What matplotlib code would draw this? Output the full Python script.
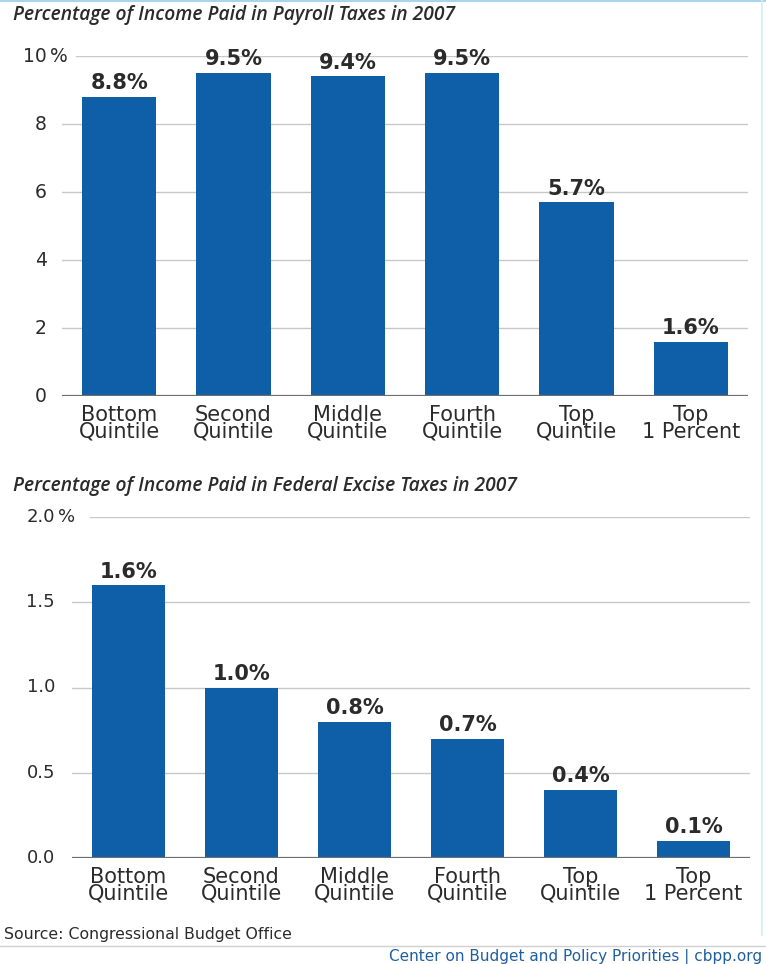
import matplotlib
matplotlib.use("Agg")
import matplotlib.pyplot as plt
from matplotlib.lines import Line2D

plt.rcParams['font.family'] = ['DejaVu Sans']

categories = ["Bottom\nQuintile", "Second\nQuintile", "Middle\nQuintile",
              "Fourth\nQuintile", "Top\nQuintile", "Top\n1 Percent"]

payroll_values = [8.8, 9.5, 9.4, 9.5, 5.7, 1.6]
payroll_ticks = [0, 2, 4, 6, 8, 10]
payroll_ticklabels = ["0", "2", "4", "6", "8", "10"]

excise_values = [1.6, 1.0, 0.8, 0.7, 0.4, 0.1]
excise_ticks = [0.0, 0.5, 1.0, 1.5, 2.0]
excise_ticklabels = ["0.0", "0.5", "1.0", "1.5", "2.0"]

payroll_title = "Percentage of Income Paid in Payroll Taxes in 2007"
excise_title = "Percentage of Income Paid in Federal Excise Taxes in 2007"
source_text = "Source: Congressional Budget Office"
credit_text = "Center on Budget and Policy Priorities | cbpp.org"

BAR = "#0f5fa8"
GRID = "#c8c8c8"
BASE = "#6e6e6e"
TEXT = "#2b2b2b"
TITLE_FONT = ['Open Sans', 'DejaVu Sans']

W, H = 766, 964
fig = plt.figure(figsize=(W / 100, H / 100), dpi=100)


def px_axes(left, right, y0, ytop):
    """Axes placed in pixel coordinates (origin top-left)."""
    return fig.add_axes([left / W, 1 - y0 / H, (right - left) / W, (y0 - ytop) / H])


def draw_panel(ax, values, ticks, ticklabels, ymax, grid_starts, num_right_px,
               ax_left_px, ax_right_px, tick_size):
    ax.set_xlim(-0.5, len(values) - 0.5)
    ax.set_ylim(0, ymax)
    for s in ax.spines.values():
        s.set_visible(False)
    ax.set_xticks([])
    ax.set_yticks([])
    span = ax_right_px - ax_left_px

    # gridlines, each one starting just after its label
    for t, gs in zip(ticks, grid_starts):
        xmin = (gs - ax_left_px) / span
        if t == 0:
            ax.axhline(t, xmin=xmin, xmax=1, color=BASE, lw=1.6, zorder=3)
        else:
            ax.axhline(t, xmin=xmin, xmax=1, color=GRID, lw=1.0, zorder=0)

    bars = ax.bar(range(len(values)), values, width=0.65, color=BAR, zorder=2)
    for b, v in zip(bars, values):
        ax.annotate(f"{v:.1f}%", (b.get_x() + b.get_width() / 2, v),
                    xytext=(0, 5.5), textcoords="offset points",
                    ha="center", va="baseline", fontsize=15, fontweight="bold",
                    color=TEXT, clip_on=False)

    # y tick labels: numbers right-aligned, percent sign on the top one
    xr = (num_right_px - ax_left_px) / span
    for i, (t, lab) in enumerate(zip(ticks, ticklabels)):
        ax.text(xr, t, lab, transform=ax.get_yaxis_transform(), ha="right",
                va="center", fontsize=tick_size, color=TEXT, clip_on=False)
        if i == len(ticks) - 1:
            ax.text(xr + 3 / span, t, "%", transform=ax.get_yaxis_transform(),
                    ha="left", va="center", fontsize=tick_size, color=TEXT,
                    clip_on=False)

    for i, c in enumerate(categories):
        ax.annotate(c, (i, 0), xytext=(0, -6.5), textcoords="offset points",
                    ha="center", va="top", fontsize=15, color=TEXT,
                    linespacing=0.8, annotation_clip=False)


# top panel
top_left, top_right = 62, 748
ax1 = px_axes(top_left, top_right, 396, 56)
draw_panel(ax1, payroll_values, payroll_ticks, payroll_ticklabels, 10,
           [62, 62, 62, 62, 62, 76], 47, top_left, top_right, 13.5)
fig.text(13 / W, 1 - 15 / H, payroll_title, fontsize=13.9, style="italic",
         fontweight="semibold", color=TEXT, ha="left", va="center",
         family=TITLE_FONT)

# bottom panel
bot_left, bot_right = 72, 750
ax2 = px_axes(bot_left, bot_right, 858, 517)
draw_panel(ax2, excise_values, excise_ticks, excise_ticklabels, 2.0,
           [72, 72, 72, 72, 90], 55, bot_left, bot_right, 13)
fig.text(13 / W, 1 - 486 / H, excise_title, fontsize=13.9, style="italic",
         fontweight="semibold", color=TEXT, ha="left", va="center",
         family=TITLE_FONT)

# footer
fig.text(4 / W, 1 - 934 / H, source_text, fontsize=11.3, color=TEXT,
         ha="left", va="center")
fig.add_artist(Line2D([0, 1], [1 - 946 / H, 1 - 946 / H], transform=fig.transFigure,
                      color="#cfcfcf", lw=1.0))
fig.text(762 / W, 1 - 957 / H, credit_text, fontsize=11, color="#1f5fa0",
         ha="right", va="center")

# thin frame lines at the top and right edges
fig.add_artist(Line2D([0, 1], [1 - 1 / H, 1 - 1 / H], transform=fig.transFigure,
                      color="#a9d4ee", lw=1.5))
fig.add_artist(Line2D([1 - 4 / W, 1 - 4 / W], [0.03, 1], transform=fig.transFigure,
                      color="#d6ecf8", lw=1.2))

fig.savefig("out.png", dpi=100)
